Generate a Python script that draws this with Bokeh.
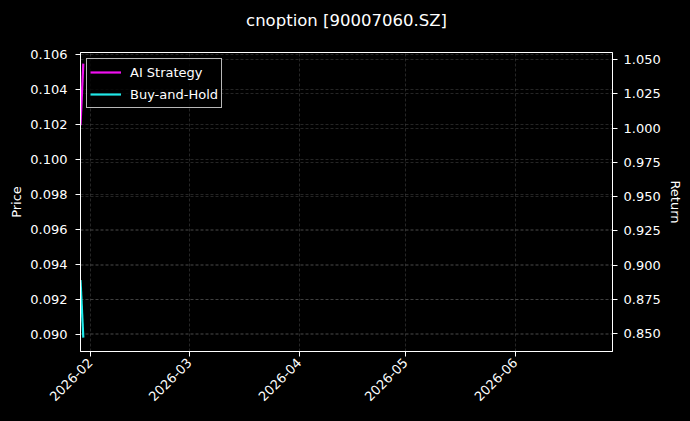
from datetime import datetime, timezone
from math import pi

from bokeh.embed import file_html
from bokeh.models import (DatetimeTickFormatter, FixedTicker,
                          GlobalInlineStyleSheet, Grid, Legend, LegendItem,
                          LinearAxis, PrintfTickFormatter, Range1d, Title)
from bokeh.plotting import figure
from bokeh.resources import INLINE

# data
dates = [datetime(2026, 1, 29, 5), datetime(2026, 1, 30)]
ai_strategy = [1.002, 1.047]
buy_and_hold = [0.889, 0.847]

month_ticks = ["2026-02-01", "2026-03-01", "2026-04-01",
               "2026-05-01", "2026-06-01"]
price_ticks = [0.090, 0.092, 0.094, 0.096, 0.098,
               0.100, 0.102, 0.104, 0.106]
return_ticks = [0.850, 0.875, 0.900, 0.925, 0.950,
                0.975, 1.000, 1.025, 1.050]

FONT = "DejaVu Sans"


def to_ms(day: str) -> float:
    d = datetime.strptime(day, "%Y-%m-%d").replace(tzinfo=timezone.utc)
    return d.timestamp() * 1000


def style_axis(axis) -> None:
    axis.axis_line_color = "white"
    axis.major_tick_line_color = "white"
    axis.minor_tick_line_color = None
    axis.major_tick_in = 0
    axis.major_tick_out = 5
    axis.major_label_text_color = "white"
    axis.major_label_text_font = FONT
    axis.major_label_text_font_size = "13px"
    axis.axis_label_text_color = "white"
    axis.axis_label_text_font = FONT
    axis.axis_label_text_font_size = "13px"
    axis.axis_label_text_font_style = "normal"


p = figure(width=690, height=421,
           x_axis_type="datetime",
           x_range=Range1d(datetime(2026, 1, 29, 5), datetime(2026, 6, 28, 12)),
           y_range=Range1d(0.08903, 0.10611),
           output_backend="svg", toolbar_location=None,
           background_fill_color="black", border_fill_color="black",
           min_border_left=80, min_border_right=78,
           min_border_top=52, min_border_bottom=70)
p.extra_y_ranges = {"ret": Range1d(0.8369, 1.0551)}
p.outline_line_color = "white"
p.outline_line_width = 1

p.title.text = "cnoption [90007060.SZ]"
p.title.align = "center"
p.title.text_color = "white"
p.title.text_font = FONT
p.title.text_font_size = "16.5px"
p.title.text_font_style = "normal"
p.title.standoff = 4

# black-on-black spacer that sits between the frame and the title
spacer = Title(text=".", text_color="black", text_font_size="10px",
               standoff=11)
p.add_layout(spacer, "above")

p.xaxis.ticker = FixedTicker(ticks=[to_ms(d) for d in month_ticks])
p.xaxis.formatter = DatetimeTickFormatter(years="%Y-%m", months="%Y-%m",
                                          days="%Y-%m", hours="%Y-%m")
p.xaxis.major_label_orientation = pi / 4
p.xaxis.major_label_standoff = 4
style_axis(p.xaxis[0])

p.yaxis.ticker = FixedTicker(ticks=price_ticks)
p.yaxis.formatter = PrintfTickFormatter(format="%.3f")
p.yaxis.axis_label = "Price"
p.yaxis.major_label_standoff = 8
p.yaxis.axis_label_standoff = 3
style_axis(p.yaxis[0])

right_ticker = FixedTicker(ticks=return_ticks)
right_axis = LinearAxis(y_range_name="ret", ticker=right_ticker,
                        formatter=PrintfTickFormatter(format="%.3f"),
                        axis_label="Return",
                        major_label_standoff=6, axis_label_standoff=4)
style_axis(right_axis)
p.add_layout(right_axis, "right")

for grid in (p.xgrid[0], p.ygrid[0]):
    grid.grid_line_color = "#8a8a8a"
    grid.grid_line_alpha = 0.45
    grid.grid_line_width = 0.6
    grid.grid_line_dash = "3 2"

right_grid = Grid(dimension=1, ticker=right_ticker, y_range_name="ret",
                  grid_line_color="#8a8a8a", grid_line_alpha=0.45,
                  grid_line_width=0.6, grid_line_dash="3 2")
p.add_layout(right_grid)

ai_line = p.line(dates, ai_strategy, y_range_name="ret",
                 line_color="#f010f0", line_width=2.2)
bh_line = p.line(dates, buy_and_hold, y_range_name="ret",
                 line_color="#20e8e8", line_width=2.2)

legend = Legend(items=[LegendItem(label="AI Strategy", renderers=[ai_line]),
                       LegendItem(label="Buy-and-Hold", renderers=[bh_line])],
                location="top_left", margin=6, padding=3, spacing=2,
                glyph_width=31, glyph_height=20, label_height=20,
                label_standoff=9,
                label_text_color="white", label_text_font=FONT,
                label_text_font_size="13px",
                background_fill_color="black", background_fill_alpha=0.8,
                border_line_color="#cccccc", border_line_alpha=0.9)
p.add_layout(legend)

p.stylesheets = [GlobalInlineStyleSheet(
    css="html, body { background-color: #000000; }")]

open("out.html", "w").write(file_html(p, INLINE))
